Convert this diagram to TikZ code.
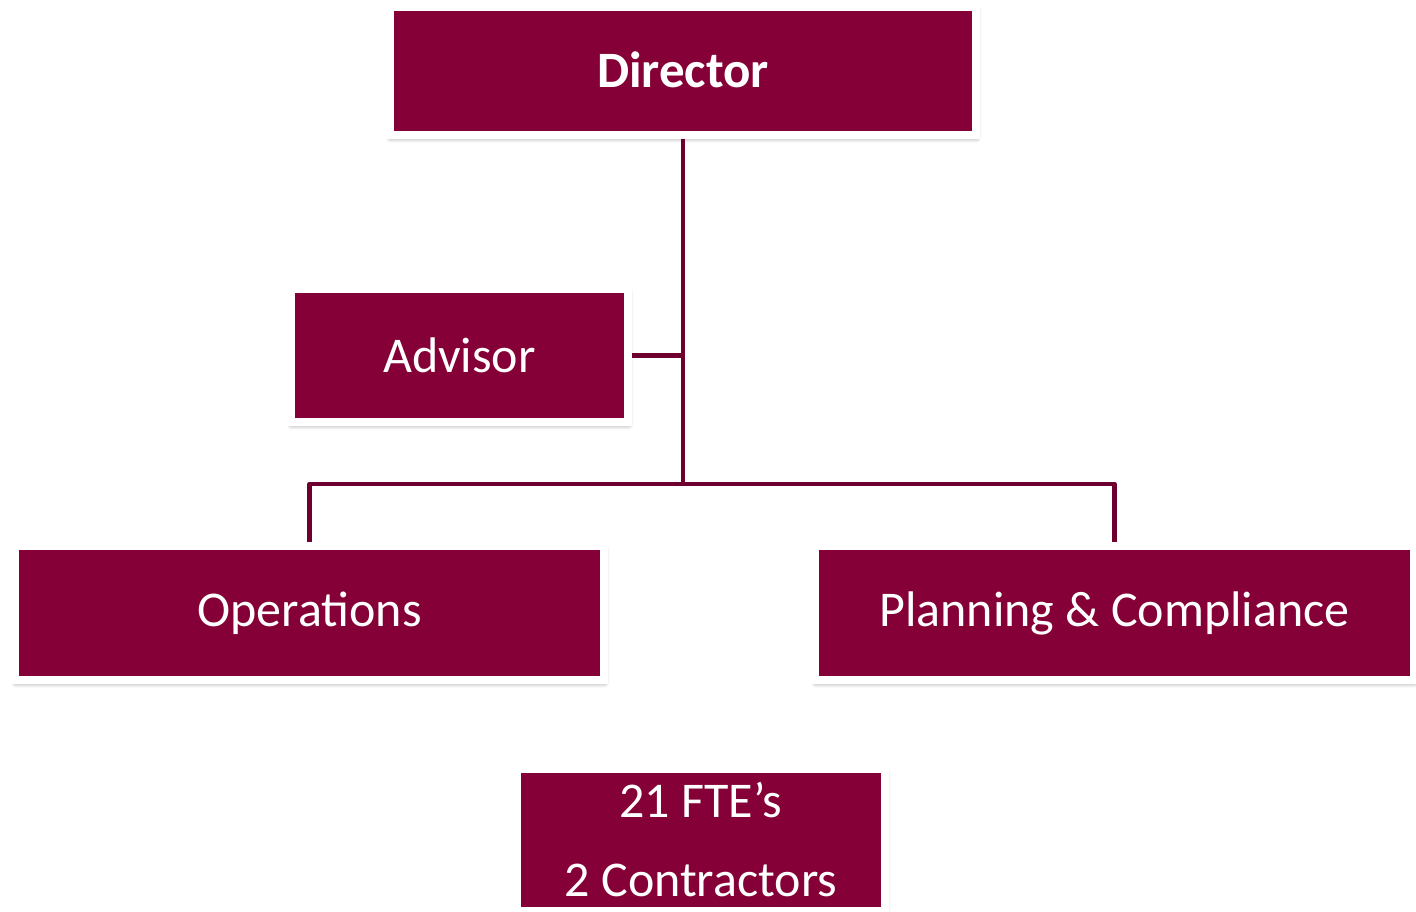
\documentclass[tikz,border=0pt]{standalone}
\usepackage{fontspec}
\setmainfont{Carlito}
\usetikzlibrary{shadows.blur}
\definecolor{boxred}{HTML}{850036}
\definecolor{linered}{HTML}{6E0030}
\tikzset{
  orgbox/.style={rectangle, fill=boxred, draw=white, line width=8pt, text=white,
    font=\fontsize{50}{79}\selectfont, align=center, inner sep=0pt,
    blur shadow={shadow xshift=0.5pt, shadow yshift=-3pt, shadow blur steps=8,
      shadow blur radius=5pt, shadow opacity=45}},
  conn/.style={draw=linered, line width=4.5pt, line join=round}
}
\begin{document}
\begin{tikzpicture}[x=1pt, y=-1pt]
\useasboundingbox (0,0) rectangle (1416,912);
\node[orgbox, minimum width=586pt, minimum height=128pt, font=\fontsize{51}{60}\selectfont\bfseries] (dir) at (683,71) {\raisebox{2pt}{Director}};
\node[orgbox, minimum width=337pt, minimum height=133pt] (adv) at (459.5,355.5) {Advisor};
\node[orgbox, minimum width=589pt, minimum height=134pt] (ops) at (309.5,613) {Operations};
\node[orgbox, minimum width=599pt, minimum height=134pt] (plan) at (1114.5,613) {Planning \& Compliance};
\node[orgbox, minimum width=368pt, minimum height=142pt] (fte) at (701,840) {21 FTE’s\\2 Contractors};
\coordinate (bar) at (683,484);
\draw[conn] (dir.south) -- (bar);
\draw[conn] (adv.east) -- (adv.east -| bar);
\draw[conn] (ops.north) |- (bar) -| (plan.north);
\end{tikzpicture}
\end{document}
